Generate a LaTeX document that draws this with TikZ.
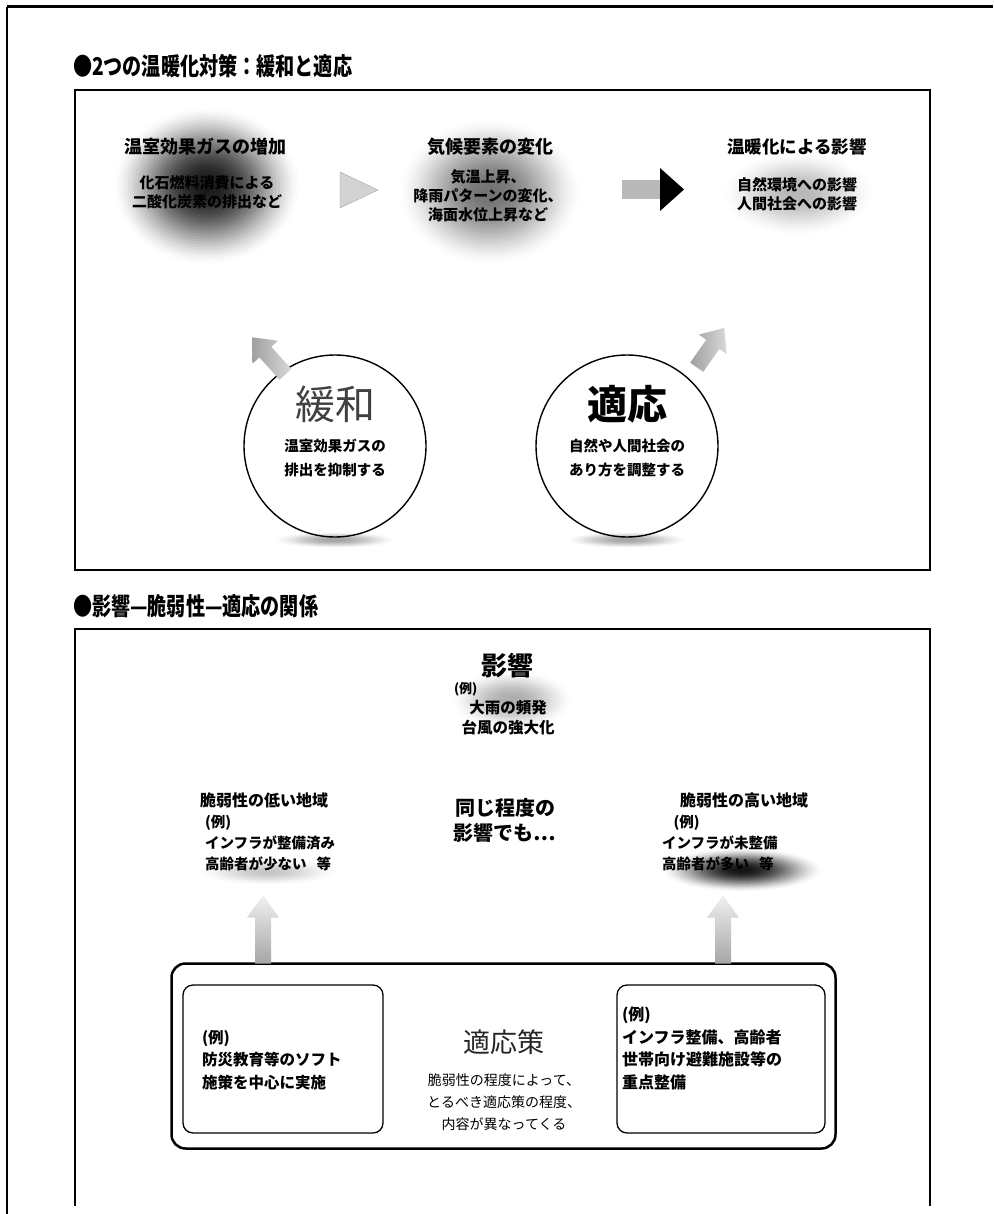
\documentclass[tikz,border=0pt]{standalone}
\usepackage{fontspec}
\setmainfont{Noto Sans CJK JP}
\newfontfamily\condfont{Noto Sans CJK JP}[FakeStretch=0.78]
\usetikzlibrary{shapes.arrows}
\newcommand\softblob[5]{%
  \foreach \i in {1,...,30}{%
    \pgfmathsetmacro\pp{#5*(sin(90*(\i-1)/29))^1.5}%
    \pgfmathsetmacro\ss{1-(\i-1)/30}%
    \fill[black!\pp] (#1,#2) ellipse [x radius={#3*\ss}, y radius={#4*\ss}];%
  }}
\begin{document}
\begin{tikzpicture}[x=1pt,y=-1pt,
  every node/.style={inner sep=0pt, outer sep=0pt},
  ttl/.style={font=\fontsize{24.5}{27}\condfont\bfseries},
  hd/.style={font=\fontsize{18}{22}\selectfont\bfseries, align=center},
  sub/.style={font=\fontsize{15}{19}\selectfont\bfseries, align=center},
  subl/.style={font=\fontsize{14.5}{21}\selectfont\bfseries, align=left},
  boxl/.style={font=\fontsize{16}{22.5}\selectfont\bfseries, align=left},
  big/.style={font=\fontsize{40}{44}\selectfont},
  circ/.style={circle, draw, line width=1.4pt, minimum size=182pt},
  frame/.style={line width=1.5pt},
  upar/.style={top color=gray!12, bottom color=gray!70},
  darr/.style={left color=gray!75, right color=gray!30}]
\fill[white] (0,0) rectangle (993,1214);
\useasboundingbox (0,0) rectangle (993,1214);
% outer frame
\draw[line width=3pt] (7,7) -- (993,7);
\draw[line width=2pt] (7,7) -- (7,1214);

% ---------- panel 1 ----------
\node[ttl, anchor=west] (t1) at (73,66) {●2つの温暖化対策：緩和と適応};

\softblob{207}{186}{95}{80}{90}
\softblob{490}{192}{92}{74}{55}
\softblob{798}{194}{76}{42}{28}

\draw[frame] (75,90) rectangle (930,570);

\node[hd] (h1) at (205,147) {温室効果ガスの増加};
\node[sub] (s1) at (207,192) {化石燃料消費による\\二酸化炭素の排出など};
\node[hd] (h2) at (490,147) {気候要素の変化};
\node[sub] (s2) at (488,196) {気温上昇、\\降雨パターンの変化、\\海面水位上昇など};
\node[hd, font=\fontsize{17.5}{22}\selectfont\bfseries] (h3) at (797,147) {温暖化による影響};
\node[sub] (s3) at (797,194) {自然環境への影響\\人間社会への影響};

\fill[gray!35, draw=gray!70] (340,172) -- (378,190) -- (340,208) -- cycle;
\fill[gray!55] (622,180) rectangle (662,199);
\fill[black] (660,168) -- (684,189.5) -- (660,211) -- cycle;

% circles
\softblob{335}{540}{62}{8}{35}
\softblob{627}{540}{62}{8}{35}
\node[circ] (mit) at (335,446) {};
\node[circ] (ada) at (627,446) {};
\node[big, text=black!75] (mitT) at (335,404) {緩和};
\node[big, font=\fontsize{40}{44}\selectfont\bfseries] (adaT) at (627,404) {適応};
\node[sub, font=\fontsize{14.5}{24}\selectfont\bfseries] (mitS) at (335,458) {温室効果ガスの\\排出を抑制する};
\node[sub, font=\fontsize{14.5}{24}\selectfont\bfseries] (adaS) at (627,458) {自然や人間社会の\\あり方を調整する};

\coordinate (mitA) at (mit.125);
\coordinate (adaA) at (699,364);
\begin{scope}[shift={(mitA)}, rotate=132]
  \shade[darr] (-4,-8) -- (26,-8) -- (26,-17) -- (46,0) -- (26,17) -- (26,8) -- (-4,8) -- cycle;
\end{scope}
\begin{scope}[shift={(adaA)}, rotate=55]
  \shade[darr] (-4,-8) -- (24,-8) -- (24,-17) -- (44,0) -- (24,17) -- (24,8) -- (-4,8) -- cycle;
\end{scope}

% ---------- panel 2 ----------
\node[ttl, anchor=west] (t2) at (73,606) {●影響—脆弱性—適応の関係};

\softblob{512}{700}{62}{30}{32}
\softblob{268}{872}{70}{13}{22}
\softblob{742}{870}{82}{22}{92}

\draw[line width=2.8pt] (74,629) -- (931,629);
\draw[frame] (75,629) -- (75,1206);
\draw[frame] (930,629) -- (930,1206);

\node[font=\fontsize{26}{30}\selectfont\bfseries] (imp) at (507,666) {影響};
\node[font=\fontsize{13}{16}\selectfont\bfseries, anchor=west] (impE) at (454,689) {(例)};
\node[font=\fontsize{15.5}{20}\selectfont\bfseries, align=center] (impS) at (508,718) {大雨の頻発\\台風の強大化};

\node[hd, font=\fontsize{16}{20}\selectfont\bfseries, anchor=west] (lowH) at (200,800) {脆弱性の低い地域};
\node[subl, anchor=north west] (lowS) at (205,815) {(例)\\インフラが整備済み\\高齢者が少ない\hspace{0.7em}等};
\node[font=\fontsize{20}{25}\selectfont\bfseries, align=center] (same) at (505,820) {同じ程度の\\影響でも…};
\node[hd, font=\fontsize{16}{20}\selectfont\bfseries, anchor=west] (highH) at (680,800) {脆弱性の高い地域};
\node[subl, anchor=north west] (highS) at (662,815) {\hspace{0.8em}(例)\\インフラが未整備\\高齢者が多い\hspace{0.7em}等};

% adaptation box
\node[draw, line width=2.5pt, rounded corners=14pt, minimum width=664pt, minimum height=185pt] (pol) at (503.5,1056) {};
\node[draw, line width=1.3pt, rounded corners=10pt, minimum width=200pt, minimum height=148pt] (polL) at (283,1059) {};
\node[draw, line width=1.3pt, rounded corners=10pt, minimum width=208pt, minimum height=148pt] (polR) at (721,1059) {};
\node[font=\fontsize{27}{32}\selectfont, text=black!85] (polT) at (504,1042) {適応策};
\node[font=\fontsize{14}{22}\selectfont, align=center] (polS) at (504,1102) {脆弱性の程度によって、\\とるべき適応策の程度、\\内容が異なってくる};
\node[boxl, font=\fontsize{15.5}{22.5}\selectfont\bfseries, anchor=north west] (polLS) at (202,1030) {(例)\\防災教育等のソフト\\施策を中心に実施};
\node[boxl, anchor=north west] (polRS) at (622,1007) {(例)\\インフラ整備、高齢者\\世帯向け避難施設等の\\重点整備};

% up arrows
\coordinate (arL) at (pol.north -| 263,0);
\coordinate (arR) at (pol.north -| 723,0);
\shade[upar] (arL) ++(-8,0) -- ++(0,-46) -- ++(-8,0) -- ++(16,-22) -- ++(16,22) -- ++(-8,0) -- ++(0,46) -- cycle;
\shade[upar] (arR) ++(-8,0) -- ++(0,-46) -- ++(-8,0) -- ++(16,-22) -- ++(16,22) -- ++(-8,0) -- ++(0,46) -- cycle;
\end{tikzpicture}
\end{document}
